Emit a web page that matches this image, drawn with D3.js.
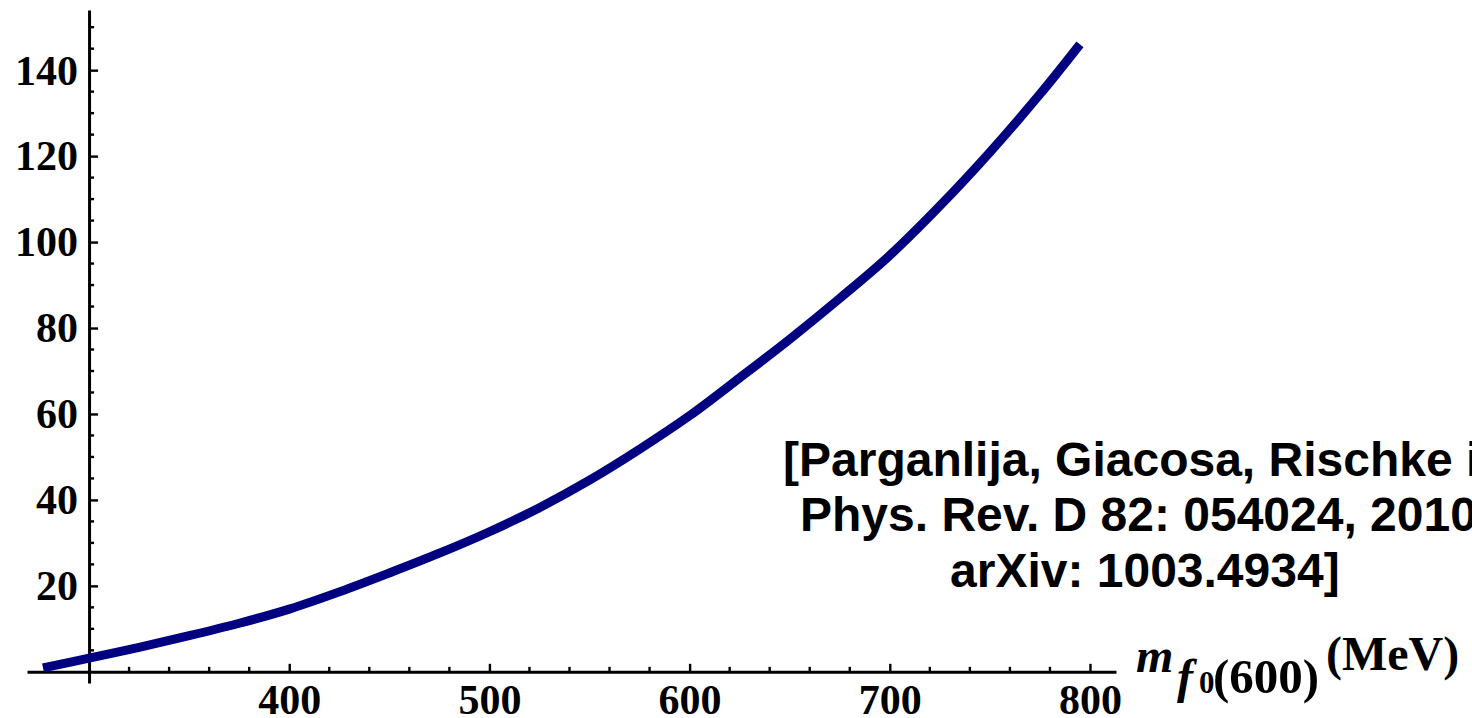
<!DOCTYPE html>
<html lang="en">
<head>
    <meta charset="UTF-8">
    <title>f0(600) curve</title>
    <script src="https://d3js.org/d3.v7.min.js"></script>
    <style>
        body{ margin:0; background:#fff; }
        path.curve{
            stroke: #000080;
            stroke-width: 9px;
            fill: none;
        }
        .axis path.domain{ stroke:#000; stroke-width:3px; }
        .axis line{ stroke:#000; stroke-width:2.4px; }
        .axis text{
            font-family: "Liberation Serif", "Times New Roman", serif;
            font-weight: bold;
            font-size: 42px;
            fill:#000;
        }
        .note{
            font-family: "Liberation Sans", Arial, sans-serif;
            font-weight: bold;
            font-size: 48px;
        }
        .lab{ font-family: "Liberation Serif", "Times New Roman", serif; font-weight: bold; }
    </style>
</head>
<body>
<svg width="1472" height="718"></svg>
<script>
    // data
    let massValues  = [277, 300, 325, 350, 375, 400, 425, 450, 475, 500, 525, 550, 575, 600, 625, 650, 675, 700, 725, 750, 775, 795];
    let curveValues = [0.9, 3.2, 5.7, 8.4, 11.3, 14.6, 18.6, 23.0, 27.6, 32.6, 38.2, 44.6, 51.8, 59.6, 68.4, 77.4, 86.9, 96.9, 108.4, 120.9, 134.4, 146.0];
    let xMajorTicks = [400, 500, 600, 700, 800];
    let yMajorTicks = [20, 40, 60, 80, 100, 120, 140];
    let noteLines = ["[Parganlija, Giacosa, Rischke i", "Phys. Rev. D 82: 054024, 2010", "arXiv: 1003.4934]"];

    let data = massValues.map(function(m, i){ return {m: m, v: curveValues[i]}; });

    // 1 svg and scales
    let svg = d3.select('svg');
    let xScale = d3.scaleLinear().domain([269, 813]).range([27, 1116]);
    let yScale = d3.scaleLinear().domain([-2.6, 154]).range([683, 10]);
    let x0 = xScale(300), y0 = yScale(0);

    let xMinor = d3.range(280, 800, 20).filter(function(d){ return d % 100 !== 0 && d !== 300; });
    let yMinor = d3.range(5, 155, 5).filter(function(d){ return d % 20 !== 0; });

    // 2 axes
    let xAxis = svg.append('g').attr('class', 'axis').attr('transform', 'translate(0,' + y0 + ')')
        .call(d3.axisBottom(xScale).tickValues(xMajorTicks).tickSizeInner(-8).tickSizeOuter(0));
    xAxis.selectAll('text').attr('y', 42).attr('dy', 0);
    xAxis.append('g').selectAll('line').data(xMinor).join('line')
        .attr('x1', function(d){ return xScale(d); }).attr('x2', function(d){ return xScale(d); })
        .attr('y1', 0).attr('y2', -5);

    let yAxis = svg.append('g').attr('class', 'axis').attr('transform', 'translate(' + x0 + ',0)')
        .call(d3.axisLeft(yScale).tickValues(yMajorTicks).tickSizeInner(-9).tickSizeOuter(0).tickPadding(11));
    yAxis.selectAll('text').attr('dy', '0.33em');
    yAxis.append('g').selectAll('line').data(yMinor).join('line')
        .attr('y1', function(d){ return yScale(d); }).attr('y2', function(d){ return yScale(d); })
        .attr('x1', 0).attr('x2', 5);

    // 3 the curve
    let line = d3.line()
        .x(function(d){ return xScale(d.m); })
        .y(function(d){ return yScale(d.v); })
        .curve(d3.curveCatmullRom.alpha(0.5));
    svg.append('path').datum(data).attr('class', 'curve').attr('d', line);

    // 4 axis label m_{f0(600)} (MeV)
    let lab = svg.append('g').attr('class', 'lab');
    lab.append('text').attr('x', 1136).attr('y', 672).style('font-size', '48px').style('font-style', 'italic').text('m');
    lab.append('text').attr('x', 1177).attr('y', 693).style('font-size', '48px').style('font-style', 'italic').text('f');
    lab.append('text').attr('x', 1199).attr('y', 693).style('font-size', '31px').text('0');
    lab.append('text').attr('x', 1213).attr('y', 693).style('font-size', '49px').text('(600)');
    lab.append('text').attr('x', 1326).attr('y', 670).style('font-size', '48px').text('(MeV)');

    // 5 reference note
    let noteX = [783, 800, 950];
    let noteY = [476, 531, 587];
    svg.append('g').selectAll('text').data(noteLines).join('text')
        .attr('class', 'note')
        .attr('x', function(d, i){ return noteX[i]; })
        .attr('y', function(d, i){ return noteY[i]; })
        .text(function(d){ return d; });
</script>
</body>
</html>
